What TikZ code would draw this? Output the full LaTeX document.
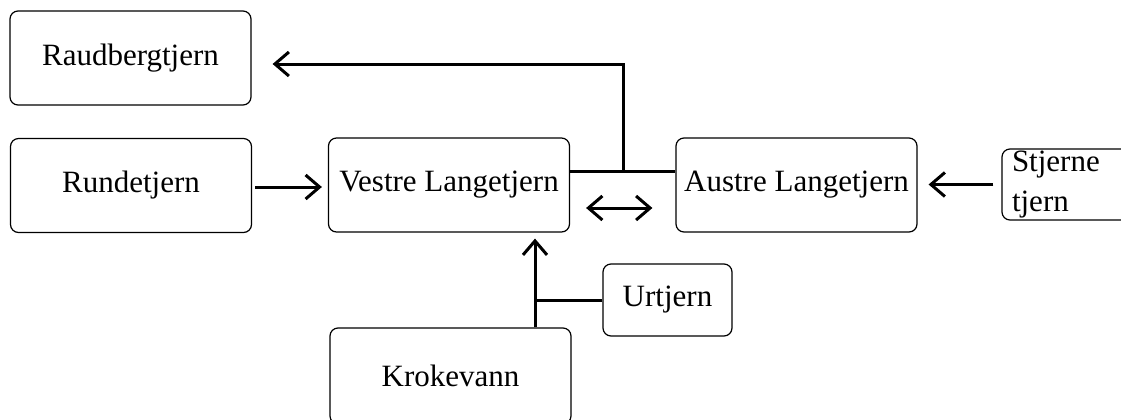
\documentclass[tikz,border=0pt]{standalone}
\usepackage{fontspec}
\setmainfont{Liberation Serif}
\usetikzlibrary{arrows.meta}

\begin{document}
\begin{tikzpicture}[x=0.5pt,y=-0.5pt,>={Straight Barb[length=7pt,width=12pt]},
  every node/.style={font=\fontsize{15.5}{20}\selectfont},
  box/.style={draw,rounded corners=4pt,line width=0.6pt,inner sep=0pt,minimum width=120.5pt,minimum height=47pt},
  flow/.style={line width=1.5pt}]
\useasboundingbox (0,0) rectangle (1121,419);
\node[box] (raud) at (130.5,58) {Raudbergtjern};
\node[box] (runde) at (131,185.5) {Rundetjern};
\node[box] (vestre) at (449,185) {Vestre Langetjern};
\node[box] (austre) at (796.5,185) {Austre Langetjern};
\node[box,minimum width=72pt,minimum height=35.5pt,text width=62pt,align=left,inner xsep=5pt] (stjerne) at (1074,184.5) {Stjerne\\tjern};
\node[box,minimum width=64.5pt,minimum height=36pt] (urtjern) at (667.5,300) {Urtjern};
\node[box,minimum height=48pt] (kroke) at (450.5,376) {Krokevann};

\coordinate (split) at (623,171);
\coordinate (top) at (623,64);
\coordinate (dbl) at (600,208);
\coordinate (inlet) at (535,300);

\draw[flow] (vestre.east |- split) -- (austre.west |- split);
\draw[flow,->,shorten >=10.5pt] (split) -- (top) -- (raud.east |- top);
\draw[flow,->,shorten <=1.5pt,shorten >=3pt] (runde.east |- 0,187) -- (vestre.west |- 0,187);
\draw[flow,<->,shorten <=8pt,shorten >=11.5pt] (vestre.east |- dbl) -- (austre.west |- dbl);
\draw[flow,->,shorten <=4pt,shorten >=5.5pt] (stjerne.west) -- (austre.east |- stjerne.west);
\draw[flow,->,shorten >=3pt] (kroke.north -| inlet) -- (vestre.south -| inlet);
\draw[flow] (urtjern.west) -- (urtjern.west -| inlet);
\end{tikzpicture}
\end{document}
